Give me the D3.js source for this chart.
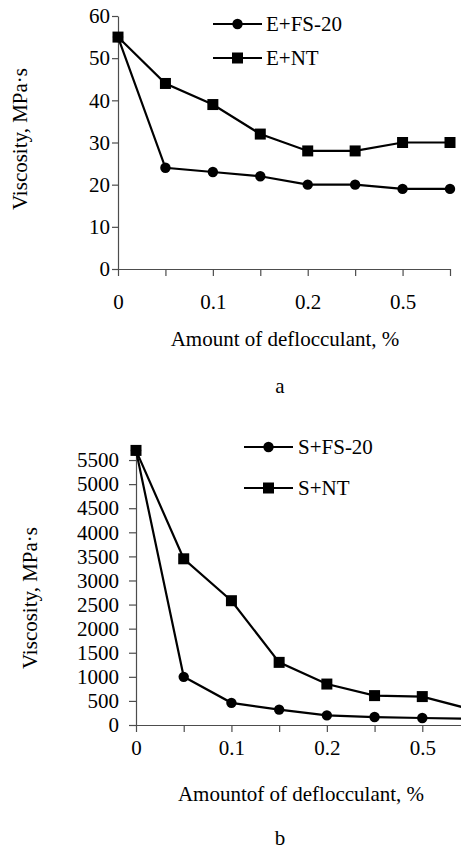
<!DOCTYPE html>
<html>
<head>
<meta charset="utf-8">
<script src="https://cdn.jsdelivr.net/npm/d3@7/dist/d3.min.js"></script>
<style>
  html, body { margin: 0; padding: 0; background: #fff; }
  svg { display: block; }
  svg text { font-family: "Liberation Serif", "DejaVu Serif", serif !important; fill: #000; }
</style>
</head>
<body>
<svg id="chart" width="461" height="851" font-family="Liberation Serif, serif"></svg>
<script>
// ---- Data ----
const xCategories = [0, 1, 2, 3, 4, 5, 6, 7];
const xTickLabels = ["0", "", "0.1", "", "0.2", "", "0.5", ""];

// Chart a
const seriesA_FS = [55, 24, 23, 22, 20, 20, 19, 19];
const seriesA_NT = [55, 44, 39, 32, 28, 28, 30, 30];
const namesA = ["E+FS-20", "E+NT"];
const yTicksA = [0, 10, 20, 30, 40, 50, 60];

// Chart b
const seriesB_FS = [5700, 1000, 460, 320, 200, 165, 145, 130];
const seriesB_NT = [5700, 3450, 2580, 1300, 850, 610, 590, 330];
const namesB = ["S+FS-20", "S+NT"];
const yTicksB = [0, 500, 1000, 1500, 2000, 2500, 3000, 3500, 4000, 4500, 5000, 5500];

const svg = d3.select("#chart");
const FONT = 21;
const FAMILY = "'Liberation Serif', 'Times New Roman', serif";
const axisColor = "#4d4d4d";

function styleText(sel) {
  return sel.style("font-size", FONT + "px").style("font-family", FAMILY).attr("fill", "#000");
}

function drawPanel(cfg) {
  const g = svg.append("g");
  const x = d3.scalePoint().domain(xCategories).range(cfg.xRange).padding(0);
  const y = d3.scaleLinear().domain(cfg.yDomain).range(cfg.yRange);

  // y axis
  const ya = g.append("g").attr("transform", `translate(${cfg.xRange[0]},0)`)
    .call(d3.axisLeft(y).tickValues(cfg.yTicks).tickSize(cfg.yTickSize).tickPadding(cfg.yTickPad).tickSizeOuter(0).tickFormat(d3.format("d")));
  ya.attr("font-family", null);
  ya.select(".domain").attr("stroke", axisColor).attr("stroke-width", 1.2);
  ya.selectAll(".tick line").attr("stroke", axisColor).attr("stroke-width", 1.2);
  styleText(ya.selectAll("text"));

  // x axis
  const xa = g.append("g").attr("transform", `translate(0,${cfg.yRange[0]})`)
    .call(d3.axisBottom(x).tickSize(7).tickPadding(cfg.xTickPad).tickSizeOuter(0)
      .tickFormat((d, i) => xTickLabels[i]));
  xa.attr("font-family", null);
  xa.select(".domain").attr("stroke", axisColor).attr("stroke-width", 1.2);
  xa.selectAll(".tick line").attr("stroke", axisColor).attr("stroke-width", 1.2);
  styleText(xa.selectAll("text"));

  const line = d3.line().x((d, i) => x(xCategories[i])).y(d => y(d));

  const series = [
    { vals: cfg.fs, shape: "circle" },
    { vals: cfg.nt, shape: "square" }
  ];
  series.slice().reverse().forEach(s => {
    g.append("path").datum(s.vals).attr("d", line)
      .attr("fill", "none").attr("stroke", "#000").attr("stroke-width", 2.2);
  });
  series.forEach(s => {
    const pts = g.selectAll(null).data(s.vals).enter();
    if (s.shape === "circle") {
      pts.append("circle").attr("cx", (d, i) => x(xCategories[i])).attr("cy", d => y(d))
        .attr("r", 5.2).attr("fill", "#000");
    } else {
      pts.append("rect").attr("x", (d, i) => x(xCategories[i]) - 5.5).attr("y", d => y(d) - 5.5)
        .attr("width", 11).attr("height", 11).attr("fill", "#000");
    }
  });

  // legend
  cfg.names.forEach((name, i) => {
    const ly = cfg.legend.y[i];
    const lg = g.append("g");
    lg.append("line").attr("x1", cfg.legend.x1).attr("x2", cfg.legend.x2)
      .attr("y1", ly).attr("y2", ly).attr("stroke", "#000").attr("stroke-width", 2.2);
    const mx = (cfg.legend.x1 + cfg.legend.x2) / 2;
    if (i === 0) {
      lg.append("circle").attr("cx", mx).attr("cy", ly).attr("r", 5.2).attr("fill", "#000");
    } else {
      lg.append("rect").attr("x", mx - 5.5).attr("y", ly - 5.5).attr("width", 11).attr("height", 11).attr("fill", "#000");
    }
    styleText(lg.append("text").attr("x", cfg.legend.tx).attr("y", ly + 7)).text(name);
  });

  // y title
  styleText(g.append("text")
    .attr("transform", `translate(${cfg.yTitle.x},${cfg.yTitle.y}) rotate(-90)`)
    .attr("text-anchor", "middle"))
    .text("Viscosity, MPa·s");

  // x title
  styleText(g.append("text").attr("x", cfg.xTitle.x).attr("y", cfg.xTitle.y)
    .attr("text-anchor", "middle")).text(cfg.xTitle.text);

  // panel label
  styleText(g.append("text").attr("x", cfg.panel.x).attr("y", cfg.panel.y)
    .attr("text-anchor", "middle")).text(cfg.panel.text);
}

drawPanel({
  xRange: [118, 450],
  yDomain: [0, 60], yRange: [269, 16], yTicks: yTicksA,
  yTickSize: 6, yTickPad: 2, xTickPad: 18,
  fs: seriesA_FS, nt: seriesA_NT, names: namesA,
  legend: { x1: 213, x2: 262, y: [24, 58], tx: 266 },
  yTitle: { x: 27, y: 139 },
  xTitle: { x: 285, y: 346, text: "Amount of deflocculant, %" },
  panel: { x: 280, y: 393, text: "a" }
});

drawPanel({
  xRange: [136, 470],
  yDomain: [0, 5750], yRange: [725, 448], yTicks: yTicksB,
  yTickSize: 7, yTickPad: 10, xTickPad: 8,
  fs: seriesB_FS, nt: seriesB_NT, names: namesB,
  legend: { x1: 244, x2: 293, y: [447, 488], tx: 298 },
  yTitle: { x: 37, y: 598 },
  xTitle: { x: 301, y: 801, text: "Amountof of deflocculant, %" },
  panel: { x: 280, y: 845, text: "b" }
});
</script>
</body>
</html>
